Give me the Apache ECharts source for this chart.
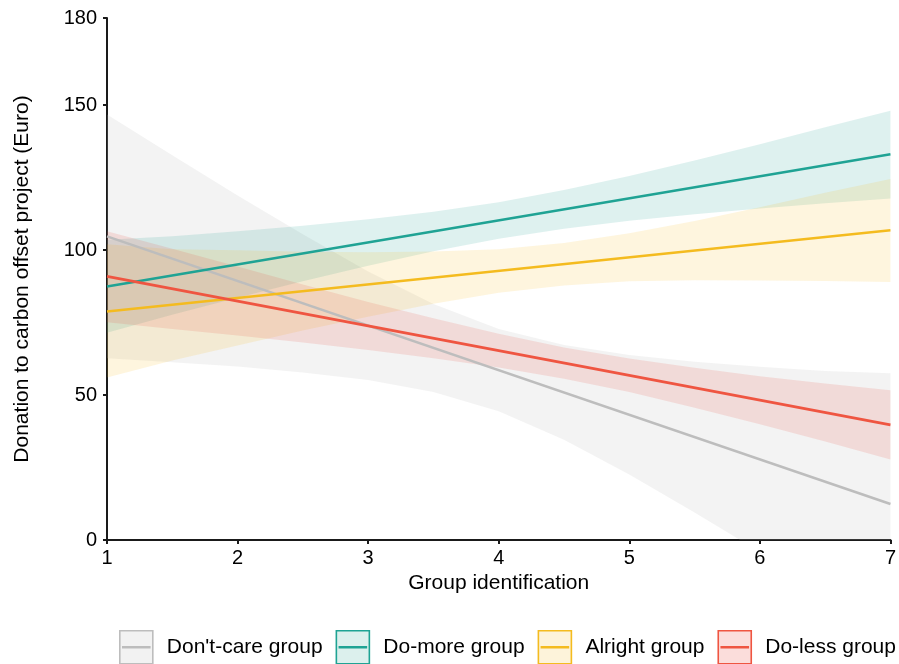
<!DOCTYPE html>
<html>
<head>
<meta charset="utf-8">
<script src="https://cdn.jsdelivr.net/npm/echarts@6/dist/echarts.min.js"></script>
<style>
  html, body { margin: 0; padding: 0; background: #fff; }
  #chart { width: 899px; height: 664px; }
</style>
</head>
<body>
<div id="chart"></div>
<script>
const groups = ["Don't-care group", 'Do-more group', 'Alright group', 'Do-less group'];
const lineColors = ['#bdbdbd', '#1fa394', '#f4bb1f', '#ef5541'];
const bandColors = ['#bebebe', '#20a396', '#f5bd22', '#ee5240'];
const bandOpacity = [0.18, 0.15, 0.15, 0.15];
const legendFills = ['#f2f2f2', '#dcf0ed', '#fdf3da', '#fbdddb'];

// x positions where the band edges were read
const xs = [1, 1.5, 2, 2.5, 3, 3.5, 4, 4.5, 5, 5.5, 6, 6.5, 7];

// fitted lines: value at x = 1 and x = 7
const fitDontCare = [104.7, 12.4];
const fitDoMore = [87.4, 133.0];
const fitAlright = [78.8, 106.8];
const fitDoLess = [90.9, 39.7];

// confidence bands (lower / upper)
const loDontCare = [62.7, 61.3, 59.8, 57.8, 55.2, 51.0, 44.4, 34.6, 22.6, 9.5, -4.1, -18.1, -32.2];
const hiDontCare = [146.7, 132.7, 118.8, 105.4, 92.6, 81.4, 72.8, 67.2, 63.8, 61.5, 59.7, 58.3, 57.5];
const loDoMore = [71.5, 77.7, 83.5, 89.2, 94.6, 99.6, 103.9, 107.3, 110.1, 112.3, 114.3, 116.1, 117.8];
const hiDoMore = [103.5, 104.7, 106.5, 108.4, 110.6, 113.2, 116.5, 120.7, 125.5, 130.9, 136.5, 142.3, 148.0];
const loAlright = [56.0, 61.9, 67.1, 72.2, 77.0, 81.5, 85.3, 87.8, 89.2, 89.6, 89.5, 89.3, 89.0];
const hiAlright = [102.0, 100.3, 99.9, 99.4, 99.2, 99.5, 100.3, 102.4, 105.8, 110.0, 114.7, 119.7, 124.5];
const loDoLess = [75.1, 72.8, 70.5, 68.1, 65.5, 62.7, 59.5, 55.6, 51.0, 45.6, 39.9, 34.0, 27.8];
const hiDoLess = [106.5, 100.4, 94.3, 88.1, 82.1, 76.5, 71.1, 66.4, 62.6, 59.4, 56.5, 54.0, 51.6];

const fits = [fitDontCare, fitDoMore, fitAlright, fitDoLess];
const lows = [loDontCare, loDoMore, loAlright, loDoLess];
const highs = [hiDontCare, hiDoMore, hiAlright, hiDoLess];

const fontFamily = '"Liberation Sans", Arial, sans-serif';

const series = [];

// ribbons: one polygon per group, upper edge then lower edge back
groups.forEach((g, i) => {
  series.push({
    name: g + ' band',
    type: 'custom',
    clip: true,
    silent: true,
    z: 1,
    data: [0],
    renderItem: function (params, api) {
      const pts = [];
      xs.forEach((x, j) => pts.push(api.coord([x, highs[i][j]])));
      for (let j = xs.length - 1; j >= 0; j--) {
        pts.push(api.coord([xs[j], lows[i][j]]));
      }
      return {
        type: 'polygon',
        shape: { points: pts },
        style: { fill: bandColors[i], opacity: bandOpacity[i] }
      };
    }
  });
});

groups.forEach((g, i) => {
  series.push({
    name: g,
    type: 'line',
    data: [[1, fits[i][0]], [7, fits[i][1]]],
    symbol: 'none',
    lineStyle: { color: lineColors[i], width: 2.6 },
    itemStyle: { color: lineColors[i] },
    z: 5
  });
});

// legend key: filled box with a line across the middle
const keyIcon = 'path://M0,0H33V33H0Z M3,16H30V17H3Z';

const option = {
  animation: false,
  backgroundColor: '#fff',
  textStyle: { fontFamily: fontFamily },
  grid: { left: 107, right: 3, top: 18, bottom: 124 },
  legend: {
    left: 119,
    right: 0,
    top: 630,
    padding: 0,
    itemWidth: 33,
    itemHeight: 33,
    itemGap: 13,
    icon: keyIcon,
    textStyle: { fontSize: 21, color: '#000', fontFamily: fontFamily, padding: [2, 0, 0, 9] },
    data: groups.map((g, i) => ({
      name: g,
      icon: keyIcon,
      itemStyle: { color: legendFills[i], borderColor: lineColors[i], borderWidth: 1.6 }
    }))
  },
  xAxis: {
    type: 'value',
    min: 1,
    max: 7,
    interval: 1,
    name: 'Group identification',
    nameLocation: 'middle',
    nameGap: 33,
    nameTextStyle: { fontSize: 21, color: '#000', fontFamily: fontFamily },
    axisLine: { lineStyle: { color: '#1a1a1a', width: 2 } },
    axisTick: { show: true, length: 4, lineStyle: { color: '#1a1a1a', width: 2 } },
    axisLabel: { fontSize: 20, color: '#000', margin: 8, fontFamily: fontFamily },
    splitLine: { show: false }
  },
  yAxis: {
    type: 'value',
    min: 0,
    max: 180,
    interval: 50,
    name: 'Donation to carbon offset project (Euro)',
    nameLocation: 'middle',
    nameGap: 74,
    nameTextStyle: { fontSize: 21, color: '#000', fontFamily: fontFamily },
    axisLine: { show: true, lineStyle: { color: '#1a1a1a', width: 2 } },
    axisTick: { show: true, length: 4, lineStyle: { color: '#1a1a1a', width: 2 } },
    axisLabel: { fontSize: 20, color: '#000', margin: 10, fontFamily: fontFamily, showMaxLabel: true },
    splitLine: { show: false }
  },
  series: series
};

const chart = echarts.init(document.getElementById('chart'), null, { renderer: 'canvas' });
chart.setOption(option);
</script>
</body>
</html>
